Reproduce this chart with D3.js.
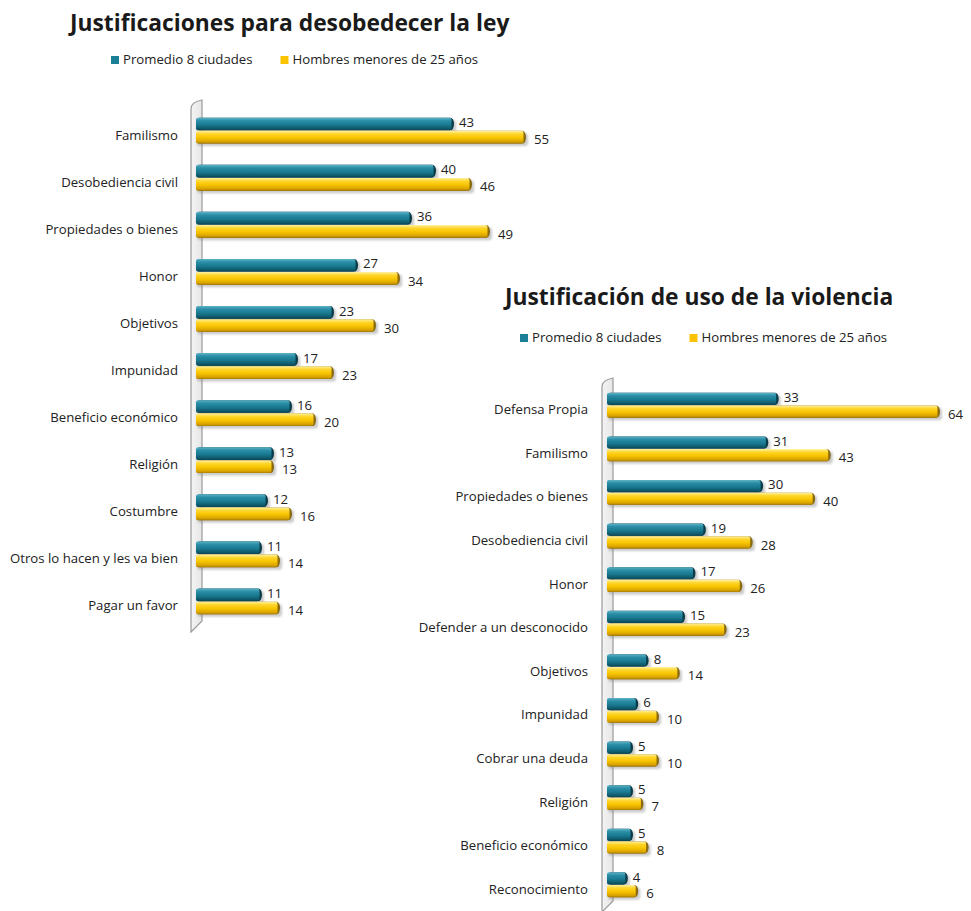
<!DOCTYPE html>
<html>
<head>
<meta charset="utf-8">
<script src="https://cdn.jsdelivr.net/npm/d3@7"></script>
<style>
  html, body { margin: 0; padding: 0; background: #ffffff; }
  svg { display: block; }
  text { font-family: "Open Sans", "Noto Sans", sans-serif; fill: #222; }
</style>
</head>
<body>
<svg id="chart" width="971" height="911"></svg>
<script>
// ---------- DATA ----------
const seriesNames = ["Promedio 8 ciudades", "Hombres menores de 25 años"];

const title1 = "Justificaciones para desobedecer la ley";
const categories1 = ["Familismo", "Desobediencia civil", "Propiedades o bienes", "Honor", "Objetivos",
  "Impunidad", "Beneficio económico", "Religión", "Costumbre", "Otros lo hacen y les va bien", "Pagar un favor"];
const promedio1 = [43, 40, 36, 27, 23, 17, 16, 13, 12, 11, 11];
const hombres1  = [55, 46, 49, 34, 30, 23, 20, 13, 16, 14, 14];

const title2 = "Justificación de uso de la violencia";
const categories2 = ["Defensa Propia", "Familismo", "Propiedades o bienes", "Desobediencia civil", "Honor",
  "Defender a un desconocido", "Objetivos", "Impunidad", "Cobrar una deuda", "Religión", "Beneficio económico", "Reconocimiento"];
const promedio2 = [33, 31, 30, 19, 17, 15, 8, 6, 5, 5, 5, 4];
const hombres2  = [64, 43, 40, 28, 26, 23, 14, 10, 10, 7, 8, 6];

// ---------- DRAW ----------
const svg = d3.select("#chart");
const defs = svg.append("defs");

const palettes = [
  { id: "gTeal", stops: ["#5fb3c6", "#2a8ea6", "#1a7b92", "#0f5a6c", "#0b4452"], cap: "#0a3b48" },
  { id: "gGold", stops: ["#fff1a0", "#ffd52a", "#f7c400", "#d9a300", "#a87c00"], cap: "#8a6a10" }
];
palettes.forEach(p => {
  const g = defs.append("linearGradient").attr("id", p.id)
    .attr("x1", 0).attr("y1", 0).attr("x2", 0).attr("y2", 1);
  const offs = [0, 0.25, 0.55, 0.85, 1];
  p.stops.forEach((c, i) => g.append("stop").attr("offset", offs[i]).attr("stop-color", c));
});
const f = defs.append("filter").attr("id", "shadow").attr("x", "-10%").attr("y", "-50%").attr("width", "130%").attr("height", "200%");
f.append("feGaussianBlur").attr("stdDeviation", 1.2);

const wallGrad = defs.append("linearGradient").attr("id", "wall").attr("x1", 0).attr("x2", 1);
wallGrad.append("stop").attr("offset", 0).attr("stop-color", "#f4f4f4");
wallGrad.append("stop").attr("offset", 1).attr("stop-color", "#e6e6e6");

const FS = 13.2;

function drawChart(cfg) {
  const g = svg.append("g");
  const y = d3.scaleBand().domain(cfg.categories).range(cfg.yRange)
    .paddingInner(cfg.padIn).paddingOuter(cfg.padOut);
  const ys = d3.scaleBand().domain(seriesNames).range([0, y.bandwidth()]).paddingInner(0.04);
  const x = d3.scaleLinear().domain([0, cfg.xMax]).range(cfg.xRange);

  // title
  g.append("text").attr("x", cfg.titleX).attr("y", cfg.titleY)
    .attr("font-size", cfg.titleSize).attr("font-weight", 700)
    .style("fill", "#1a1a1a").text(cfg.title);

  // legend
  const leg = g.append("g").attr("transform", `translate(${cfg.legX},${cfg.legY})`);
  let lx = 0;
  seriesNames.forEach((s, i) => {
    leg.append("rect").attr("x", lx).attr("y", -8).attr("width", 8).attr("height", 8)
      .attr("fill", i === 0 ? "#1b7f97" : "#fbc300");
    const t = leg.append("text").attr("x", lx + 12).attr("y", 0).attr("font-size", FS).text(s);
    lx += 12 + t.node().getComputedTextLength() + 28;
  });

  // wall (3D side panel)
  const x0 = x(0);
  const top = cfg.yRange[0], bot = cfg.yRange[1];
  const wx0 = x0 - 5, wx1 = x0 + 6;
  g.append("path")
    .attr("d", `M${wx0},${top + 9} Q${wx0},${top + 2} ${wx1},${top} L${wx1},${bot - 11} L${wx0},${bot} Z`)
    .attr("fill", "url(#wall)").attr("stroke", "#9a9a9a").attr("stroke-width", 1.2);

  // category labels
  g.selectAll("text.cat").data(cfg.categories).join("text")
    .attr("class", "cat")
    .attr("x", cfg.labelRight)
    .attr("y", d => y(d) + y.bandwidth() / 2 + 9)
    .attr("text-anchor", "end").attr("font-size", FS)
    .text(d => d);

  const rows = cfg.categories.map((c, i) => ({ c, v: [cfg.s1[i], cfg.s2[i]] }));
  rows.forEach(r => {
    r.v.forEach((v, si) => {
      const s = seriesNames[si];
      const by = y(r.c) + ys(s);
      const h = ys.bandwidth();
      const xe = x(v);
      const p = palettes[si];
      // shadow
      g.append("rect").attr("x", x0 + 1).attr("y", by + 2.5).attr("width", xe - x0 + 1).attr("height", h)
        .attr("rx", 3).attr("fill", "#8a8a8a").attr("opacity", 0.45).attr("filter", "url(#shadow)");
      // end cap (darker rim)
      g.append("rect").attr("x", x0).attr("y", by).attr("width", xe - x0).attr("height", h)
        .attr("rx", 3.5).attr("ry", h / 2).attr("fill", p.cap);
      // body
      g.append("rect").attr("x", x0).attr("y", by).attr("width", Math.max(0, xe - x0 - 2.5)).attr("height", h)
        .attr("rx", 2).attr("fill", `url(#${p.id})`);
      // value label
      g.append("text")
        .attr("x", xe + (si === 0 ? 5 : 8))
        .attr("y", by + h / 2 + (si === 0 ? 3.2 : 7.2))
        .attr("font-size", FS).text(v);
    });
  });
}

drawChart({
  title: title1, titleX: 70, titleY: 31, titleSize: 22.8,
  legX: 111, legY: 64,
  categories: categories1, s1: promedio1, s2: hombres1,
  yRange: [100, 632], padIn: 0.45, padOut: 0.375,
  xMax: 55, xRange: [196, 526],
  labelRight: 178
});

drawChart({
  title: title2, titleX: 505, titleY: 305, titleSize: 22.8,
  legX: 520, legY: 342,
  categories: categories2, s1: promedio2, s2: hombres2,
  yRange: [378, 912], padIn: 0.43, padOut: 0.34,
  xMax: 64, xRange: [607, 940],
  labelRight: 588
});
</script>
</body>
</html>
